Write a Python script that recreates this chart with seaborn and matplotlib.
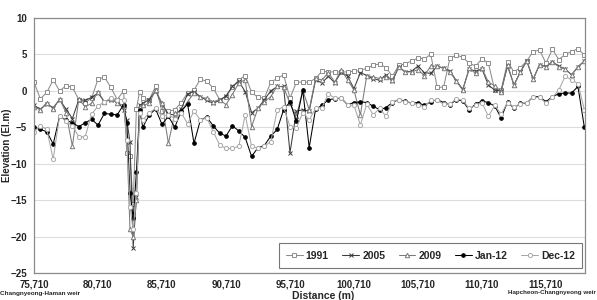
import matplotlib
matplotlib.use('Agg')
import matplotlib.pyplot as plt
import seaborn as sns

# survey sections (m); denser around the deep pool near 83,460
distance = (list(range(75710, 82711, 500))
            + [82960, 83210, 83460, 83710, 83960, 84210]
            + list(range(84710, 118711, 500)))

elev_1991 = [1.2, -1.1, -0.2, 1.5, 0.0, 0.7, 0.5, -1.2, -1.6, -1.0,
             1.6, 1.9, 0.5, -1.2, 0.0, -8.5, -9.0, -15.5, -2.5, -0.1,
             -1.0, -1.2, 0.6, -2.8, -2.8, -2.6, -1.6, -0.3, 0.1, 1.6,
             1.3, 0.4, -1.2, -0.8, 0.5, 1.5, 2.1, -0.2, -0.9, -1.0,
             1.2, 1.7, 2.2, -1.0, 1.2, 1.2, 1.2, 1.7, 2.7, 2.6,
             2.6, 2.6, 2.6, 2.7, 2.8, 3.1, 3.5, 3.7, 3.2, 2.0,
             3.5, 3.7, 4.1, 4.5, 4.4, 5.0, 0.5, 0.5, 4.5, 4.9,
             4.6, 3.8, 3.4, 4.4, 3.8, 0.1, 0.1, 4.0, 2.6, 3.2,
             4.1, 5.4, 5.6, 3.8, 5.7, 4.3, 5.0, 5.4, 5.8, 4.9]

elev_2005 = [-2.0, -2.5, -1.8, -2.3, -1.2, -2.5, -3.8, -1.2, -1.3, -0.9,
             -0.3, -1.5, -1.2, -1.3, -2.6, -4.0, -7.0, -21.5, -14.5, -2.0,
             -1.7, -1.2, 0.0, -1.8, -3.2, -3.3, -2.5, -0.4, -0.1, -0.8,
             -1.3, -1.7, -1.3, -0.7, 0.6, 1.3, -0.1, -3.0, -2.4, -1.2,
             0.0, 0.6, 0.6, -8.5, -2.8, -2.6, -2.8, 1.5, 1.1, 2.0,
             1.1, 2.6, 2.0, 0.3, 2.5, 2.1, 1.6, 1.5, 2.2, 1.3,
             3.3, 2.6, 2.7, 3.4, 2.5, 2.4, 3.4, 3.1, 2.7, 1.4,
             0.2, 3.0, 2.7, 3.0, 0.8, 0.1, 0.0, 3.4, 0.8, 2.6,
             4.1, 1.6, 3.6, 3.3, 4.0, 3.4, 3.0, 2.2, 3.3, 4.1]

elev_2009 = [-2.2, -2.6, -1.6, -2.5, -1.1, -3.0, -7.6, -1.1, -2.2, -1.7,
             -0.1, -1.5, -1.1, -1.7, -2.0, -6.5, -19.0, -20.0, -15.0, -2.2,
             -2.0, -1.7, 0.1, -1.7, -7.2, -3.1, -2.8, -1.5, -0.3, -0.9,
             -1.0, -1.5, -1.2, -1.9, -0.5, 1.1, 1.5, -4.9, -2.4, -1.5,
             -0.8, 0.7, 0.5, -1.7, -3.5, 0.1, -2.6, 1.7, 1.5, 2.5,
             1.2, 2.9, 1.5, 0.1, -3.3, 2.1, 1.9, 1.7, 1.9, 1.5,
             3.3, 2.6, 2.6, 2.9, 2.1, 3.4, 3.4, 3.1, 2.6, 1.3,
             0.1, 3.1, 2.4, 3.1, 1.2, 0.7, -0.1, 3.6, 0.8, 2.6,
             4.1, 1.6, 3.6, 3.3, 4.0, 3.3, 3.0, 2.2, 3.3, 4.1]

elev_jan12 = [-5.0, -5.3, -5.6, -7.3, -3.5, -4.0, -4.4, -4.9, -4.4, -3.9,
              -4.7, -3.1, -3.2, -3.3, -1.9, -4.4, -14.0, -17.5, -11.2, -2.6,
              -5.0, -3.3, -2.5, -4.6, -3.5, -5.0, -2.8, -1.8, -7.2, -4.0,
              -3.6, -4.8, -5.8, -6.2, -4.8, -5.5, -6.4, -9.0, -7.8, -7.5,
              -6.2, -5.3, -2.6, -1.5, -4.2, 0.1, -7.8, -2.5, -2.0, -1.2,
              -1.1, -1.0, -1.9, -1.6, -1.5, -1.6, -2.1, -2.6, -2.3, -1.6,
              -1.2, -1.4, -1.7, -1.6, -2.0, -1.5, -1.2, -1.6, -1.9, -1.2,
              -1.4, -2.6, -1.8, -1.4, -1.6, -2.1, -3.7, -1.5, -2.4, -1.7,
              -1.7, -0.8, -0.8, -1.5, -0.8, -0.4, -0.3, -0.3, 0.6, -5.0]

elev_dec12 = [-5.6, -4.8, -5.3, -9.4, -3.4, -4.2, -4.8, -6.3, -6.3, -3.2,
              -2.1, -1.5, -1.0, -1.2, -1.2, -6.7, -15.9, -19.0, -14.0, -3.0,
              -4.0, -3.0, -2.4, -3.5, -3.3, -3.8, -3.0, -4.5, -2.8, -4.0,
              -3.7, -5.6, -7.4, -7.9, -7.9, -7.6, -3.3, -7.6, -7.9, -7.6,
              -7.0, -2.6, -2.2, -4.9, -5.1, -3.0, -4.0, -2.4, -2.3, -0.4,
              -1.0, -1.0, -1.9, -2.0, -4.7, -1.8, -3.3, -2.4, -3.5, -1.5,
              -1.2, -1.5, -1.7, -1.9, -2.2, -1.3, -1.3, -1.8, -1.8, -1.1,
              -1.3, -2.4, -2.0, -1.6, -3.5, -2.0, -3.2, -1.6, -2.2, -1.8,
              -1.6, -0.9, -0.9, -1.7, -0.9, 0.1, 2.0, 1.5, 1.0, -2.6]

xticks = [75710, 80710, 85710, 90710, 95710, 100710, 105710, 110710, 115710]
yticks = [-25, -20, -15, -10, -5, 0, 5, 10]

series = [('1991', elev_1991, '#8c8c8c', 's', 'white', 3.0),
          ('2005', elev_2005, '#3c3c3c', 'x', '#3c3c3c', 3.5),
          ('2009', elev_2009, '#7a7a7a', '^', 'white', 3.2),
          ('Jan-12', elev_jan12, 'black', 'o', 'black', 2.6),
          ('Dec-12', elev_dec12, '#a8a8a8', 'o', 'white', 3.0)]

sns.set_style('white')
plt.rcParams['font.family'] = ['Liberation Sans', 'DejaVu Sans']
plt.rcParams['font.weight'] = 'bold'
plt.rcParams['axes.labelweight'] = 'bold'

fig = plt.figure(figsize=(5.97, 3.0), dpi=100)
ax = fig.add_axes([34 / 597, 27 / 300, 551 / 597, 255 / 300])

for name, vals, col, mk, mfc, ms in series:
    sns.lineplot(x=distance, y=vals, ax=ax, color=col, lw=0.75,
                 marker=mk, markersize=ms, markerfacecolor=mfc,
                 markeredgecolor=col, markeredgewidth=0.7,
                 label=name, sort=False)

ax.set_xlim(75710, 118760)
ax.set_ylim(-25, 10)
ax.set_xticks(xticks)
ax.set_xticklabels([f'{t:,}' for t in xticks])
ax.set_yticks(yticks)
ax.yaxis.grid(True, color='#dcdcdc', lw=0.8)
ax.xaxis.grid(False)
ax.tick_params(axis='both', labelsize=7, length=3, width=0.6,
               color='#808080', pad=2)
ax.tick_params(axis='y', length=2, pad=3)
for s in ax.spines.values():
    s.set_color('#8a8a8a')
    s.set_linewidth(0.9)

ax.set_xlabel('Distance (m)', fontsize=7.5)
ax.set_ylabel('Elevation (El.m)', fontsize=7)
ax.xaxis.set_label_coords(0.525, -0.07)
ax.yaxis.set_label_coords(-0.04, 0.5)

leg = ax.legend(loc='lower right', bbox_to_anchor=(0.995, 0.02), ncol=5,
                fontsize=7.5, frameon=True, fancybox=False,
                edgecolor='#555555', borderaxespad=0, handlelength=1.6,
                handletextpad=0.3, columnspacing=1.3, borderpad=0.7)
leg.get_frame().set_linewidth(0.8)

fig.text(0.0, 0.022, 'Changnyeong-Haman weir', fontsize=4.6,
         ha='left', va='center')
fig.text(0.998, 0.025, 'Hapcheon-Changnyeong weir', fontsize=4.5,
         ha='right', va='center')

fig.savefig('out.png', dpi=100)
